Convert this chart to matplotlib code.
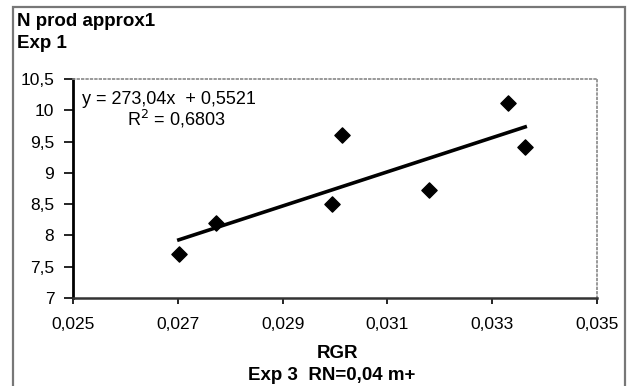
import matplotlib
matplotlib.use("Agg")
import matplotlib.pyplot as plt
from matplotlib.patches import Rectangle
import numpy as np

plt.rcParams['font.family'] = ['Liberation Sans', 'DejaVu Sans']

# Data
rgr = [0.02702, 0.02773, 0.02994, 0.03013, 0.03179, 0.03330, 0.03363]
nprod = [7.70, 8.20, 8.50, 9.60, 8.73, 10.12, 9.42]
slope = 273.04
intercept = 0.5521
r2_text = "0,6803"

x_ticks = [0.025, 0.027, 0.029, 0.031, 0.033, 0.035]
x_tick_labels = ["0,025", "0,027", "0,029", "0,031", "0,033", "0,035"]
y_ticks = [7, 7.5, 8, 8.5, 9, 9.5, 10, 10.5]
y_tick_labels = ["7", "7,5", "8", "8,5", "9", "9,5", "10", "10,5"]

W, H = 631, 386
fig = plt.figure(figsize=(W / 100, H / 100), dpi=100)

# outer chart frame
fig.patches.append(Rectangle((13 / W, -0.05), (625 - 13) / W, 1.05 - 7 / H,
                             transform=fig.transFigure, fill=False,
                             edgecolor='#777777', linewidth=1.6))

ax = fig.add_axes([73 / W, (H - 298) / H, (597 - 73) / W, (298 - 79) / H])
ax.set_xlim(0.025, 0.035)
ax.set_ylim(7, 10.5)

ax.scatter(rgr, nprod, marker='D', s=60, color='black', zorder=3)
xl = np.array([min(rgr), max(rgr)])
ax.plot(xl, slope * xl + intercept, color='black', linewidth=2.6, zorder=2)

ax.set_xticks(x_ticks)
ax.set_xticklabels(x_tick_labels, fontsize=12.5)
ax.set_yticks(y_ticks)
ax.set_yticklabels(y_tick_labels, fontsize=12.5)
ax.tick_params(axis='y', direction='out', length=6.5, width=1.2, pad=7)
ax.tick_params(axis='x', direction='out', length=4, width=1.2, pad=10)

ax.spines['left'].set_linewidth(2)
ax.spines['bottom'].set_linewidth(1.8)
ax.spines['bottom'].set_color('#333333')
for s in ['top', 'right']:
    ax.spines[s].set_linestyle(':')
    ax.spines[s].set_color('#888888')
    ax.spines[s].set_linewidth(1.2)

fig.text(82 / W, 1 - 99 / H, "y = 273,04x  + 0,5521", fontsize=13,
         ha='left', va='center')
fig.text(127 / W, 1 - 119 / H, "R$^2$ = " + r2_text, fontsize=13,
         ha='left', va='center')

fig.text(17 / W, 1 - 22 / H, "N prod approx1", fontsize=13.5, fontweight='bold',
         ha='left', va='center')
fig.text(17 / W, 1 - 43 / H, "Exp 1", fontsize=13.5, fontweight='bold',
         ha='left', va='center')

fig.text(337 / W, 1 - 354 / H, "RGR", fontsize=13.5, fontweight='bold',
         ha='center', va='center')
fig.text(332 / W, 1 - 376 / H, "Exp 3  RN=0,04 m+", fontsize=13.5, fontweight='bold',
         ha='center', va='center')

fig.savefig("out.png", dpi=100)
